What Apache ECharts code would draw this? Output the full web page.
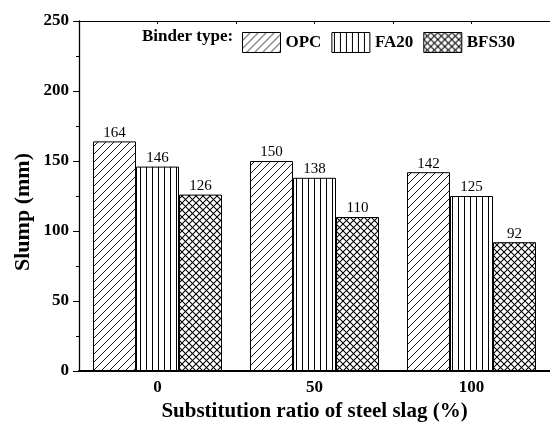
<!DOCTYPE html>
<html>
<head>
<meta charset="utf-8">
<script src="https://cdn.jsdelivr.net/npm/echarts@6/dist/echarts.min.js"></script>
<style>
  html, body { margin: 0; padding: 0; background: #fff; }
  #chart { width: 550px; height: 429px; }
</style>
</head>
<body>
<div id="chart"></div>
<script>
// Slump (mm) for each binder type at each steel slag substitution ratio (%)
const categories = ['0', '50', '100'];
const opc = [164, 150, 142];
const fa20 = [146, 138, 125];
const bfs30 = [126, 110, 92];
const seriesNames = ['OPC', 'FA20', 'BFS30'];

const SERIF = '"Liberation Serif", "Times New Roman", serif';

// Small canvas tiles used as repeating hatch fills
function tile(size, draw) {
  const c = document.createElement('canvas');
  c.width = size; c.height = size;
  const ctx = c.getContext('2d');
  ctx.fillStyle = '#fff';
  ctx.fillRect(0, 0, size, size);
  ctx.strokeStyle = '#000';
  draw(ctx, size);
  return { image: c, repeat: 'repeat' };
}
function forward(ctx, s) {
  ctx.beginPath();
  ctx.moveTo(-1, s + 1); ctx.lineTo(s + 1, -1);
  ctx.moveTo(-1, 1); ctx.lineTo(1, -1);
  ctx.moveTo(s - 1, s + 1); ctx.lineTo(s + 1, s - 1);
  ctx.stroke();
}
function backward(ctx, s) {
  ctx.beginPath();
  ctx.moveTo(-1, -1); ctx.lineTo(s + 1, s + 1);
  ctx.moveTo(s - 1, -1); ctx.lineTo(s + 1, 1);
  ctx.moveTo(-1, s - 1); ctx.lineTo(1, s + 1);
  ctx.stroke();
}
const diagonalFill = tile(8, (ctx, s) => { ctx.lineWidth = 0.9; forward(ctx, s); });
const verticalFill = tile(6, (ctx, s) => {
  ctx.lineWidth = 1;
  ctx.beginPath(); ctx.moveTo(2.5, 0); ctx.lineTo(2.5, s); ctx.stroke();
});
const crossFill = tile(7, (ctx, s) => { ctx.lineWidth = 1.05; forward(ctx, s); backward(ctx, s); });

const fills = [diagonalFill, verticalFill, crossFill];
const values = [opc, fa20, bfs30];

const chart = echarts.init(document.getElementById('chart'));

chart.setOption({
  animation: false,
  backgroundColor: '#fff',
  grid: { left: 79, top: 21, width: 480, height: 350, containLabel: false },
  legend: {
    data: seriesNames,
    left: 237,
    top: 27,
    itemWidth: 38,
    itemHeight: 20,
    itemGap: 10,
    icon: 'rect',
    itemStyle: { borderColor: '#000', borderWidth: 1 },
    textStyle: { fontFamily: SERIF, fontWeight: 'bold', fontSize: 17, color: '#000' }
  },
  graphic: [
    {
      type: 'text', x: 142, y: 37,
      style: {
        text: 'Binder type:', fill: '#000',
        font: 'bold 17px ' + SERIF,
        textAlign: 'left', textVerticalAlign: 'middle'
      }
    },
    {
      type: 'text', x: 23, y: 212, rotation: Math.PI / 2,
      style: {
        text: 'Slump (mm)', fill: '#000',
        font: 'bold 22px ' + SERIF,
        textAlign: 'center', textVerticalAlign: 'middle'
      }
    }
  ],
  xAxis: [
    {
      type: 'category',
      data: categories,
      position: 'bottom',
      name: 'Substitution ratio of steel slag (%)',
      nameLocation: 'middle',
      nameGap: 30,
      nameTextStyle: { fontFamily: SERIF, fontWeight: 'bold', fontSize: 21, color: '#000' },
      axisLine: { onZero: false, lineStyle: { color: '#000', width: 2 } },
      axisTick: { inside: true, length: 4, lineStyle: { color: '#000', width: 1 } },
      axisLabel: { interval: 0, margin: 8, fontFamily: SERIF, fontWeight: 'bold', fontSize: 17, color: '#000' },
      splitLine: { show: false }
    },
    {
      // plain frame line along the top edge
      type: 'value',
      position: 'top',
      min: -25,
      max: 125,
      interval: 25,
      axisLine: { onZero: false, lineStyle: { color: '#000', width: 1 } },
      axisTick: { inside: true, length: 3, lineStyle: { color: '#000', width: 1 } },
      axisLabel: { show: false },
      splitLine: { show: false }
    }
  ],
  yAxis: {
    type: 'value',
    position: 'left',
    min: 0,
    max: 250,
    interval: 50,
    axisLine: { show: true, onZero: false, lineStyle: { color: '#000', width: 1.3 } },
    axisTick: { show: true, inside: false, length: 6, lineStyle: { color: '#000', width: 1 } },
    minorTick: { show: true, splitNumber: 2, length: 3, lineStyle: { color: '#000', width: 1 } },
    axisLabel: { margin: 10, fontFamily: SERIF, fontWeight: 'bold', fontSize: 17, color: '#000' },
    splitLine: { show: false }
  },
  series: seriesNames.map((name, i) => ({
    name: name,
    type: 'bar',
    xAxisIndex: 0,
    data: values[i],
    barWidth: 43,
    barGap: '0%',
    itemStyle: { color: fills[i], borderColor: '#000', borderWidth: 1 },
    label: {
      show: true,
      position: 'top',
      distance: 1,
      fontFamily: SERIF,
      fontSize: 15,
      color: '#000'
    }
  }))
});
</script>
</body>
</html>
